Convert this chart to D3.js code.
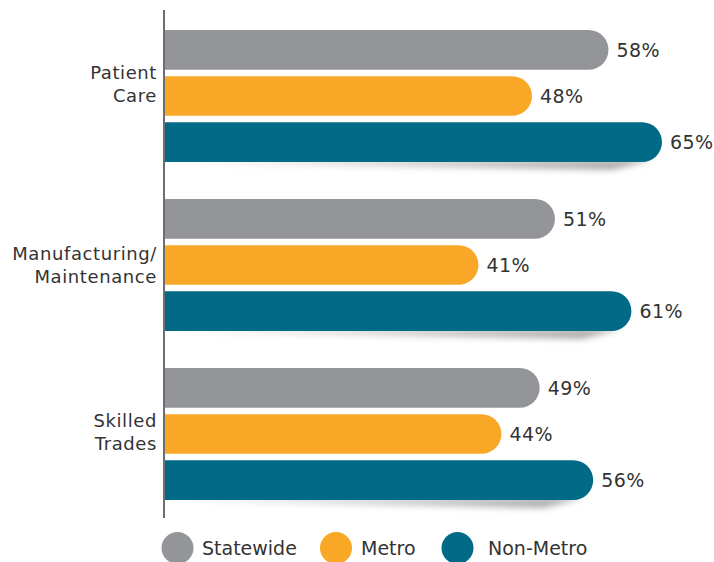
<!DOCTYPE html>
<html>
<head>
<meta charset="utf-8">
<script src="https://cdn.jsdelivr.net/npm/d3@7"></script>
<style>
  html, body { margin: 0; padding: 0; background: #fff; }
  svg { display: block; font-family: "DejaVu Sans", "Open Sans", sans-serif; }
</style>
</head>
<body>
<svg id="chart" width="714" height="562"></svg>
<script>
// Share of respondents by occupation group and region
const categories = [["Patient", "Care"], ["Manufacturing/", "Maintenance"], ["Skilled", "Trades"]];
const series = ["Statewide", "Metro", "Non-Metro"];
const statewide = [58, 51, 49];
const metro = [48, 41, 44];
const nonMetro = [65, 61, 56];
const colors = ["#939598", "#F9A727", "#016A87"];

// layout constants
const labelShift = [-12, 0, -1.5];      // vertical nudge of each category label block
const legendDot = [177.5, 336, 457.5];  // legend swatch centres
const legendText = [202, 361, 488];     // legend label starts

const values = [statewide, metro, nonMetro];
const svg = d3.select("#chart");

const x = d3.scaleLinear().domain([0, 65]).range([165, 662]);
const groupY = d3.scaleBand().domain(d3.range(categories.length)).range([30, 537]);
const barY = d3.scaleBand().domain(series).range([0, 132]).paddingInner(0.14);

const defs = svg.append("defs");
defs.append("filter").attr("id", "shadow").attr("x", "-10%").attr("y", "-100%").attr("width", "120%").attr("height", "300%")
  .append("feGaussianBlur").attr("stdDeviation", 3);
const grad = defs.append("linearGradient").attr("id", "shadeGrad");
grad.append("stop").attr("offset", "0%").attr("stop-color", "#000").attr("stop-opacity", 0.02);
grad.append("stop").attr("offset", "100%").attr("stop-color", "#000").attr("stop-opacity", 0.35);

function pill(x0, x1, y0, h) {
  const rr = Math.min(h / 2, x1 - x0);
  return `M${x0},${y0}H${x1 - rr}A${rr},${rr} 0 0 1 ${x1},${y0 + rr}` +
         `V${y0 + h - rr}A${rr},${rr} 0 0 1 ${x1 - rr},${y0 + h}H${x0}Z`;
}

const groups = svg.selectAll("g.group").data(categories).join("g")
  .attr("class", "group")
  .attr("transform", (d, i) => `translate(0,${groupY(i)})`);

// soft shadow beneath the last bar of each group
groups.append("path")
  .attr("d", (d, i) => {
    const y0 = barY("Non-Metro") + barY.bandwidth();
    const x1 = x(nonMetro[i]) - 10;
    return `M${x(0)},${y0 - 2}L${x1},${y0 - 2}L${x1 - 40},${y0 + 8}L${x(0) + 60},${y0 + 2}Z`;
  })
  .attr("fill", "url(#shadeGrad)")
  .attr("filter", "url(#shadow)");

series.forEach((s, si) => {
  groups.append("path")
    .attr("d", (d, i) => pill(x(0), x(values[si][i]), barY(s), barY.bandwidth()))
    .attr("fill", colors[si]);
  groups.append("text")
    .attr("x", (d, i) => x(values[si][i]) + 8)
    .attr("y", barY(s) + barY.bandwidth() / 2)
    .attr("dy", "0.36em")
    .attr("font-size", 19)
    .attr("letter-spacing", 0.4)
    .attr("fill", "#333")
    .text((d, i) => values[si][i] + "%");
});

// category labels
groups.append("text")
  .attr("text-anchor", "end")
  .attr("font-size", 18)
  .attr("letter-spacing", 0.6)
  .attr("fill", "#333")
  .selectAll("tspan").data((d, i) => d.map(t => ({ t, i }))).join("tspan")
  .attr("x", 157)
  .attr("y", (d, j) => barY("Metro") + barY.bandwidth() / 2 - 11.5 + j * 23 + labelShift[d.i])
  .attr("dy", "0.36em")
  .text(d => d.t);

// vertical axis line
svg.append("line")
  .attr("x1", 164).attr("x2", 164).attr("y1", 10).attr("y2", 518)
  .attr("stroke", "#6d6e71").attr("stroke-width", 2);

// legend
const legend = svg.selectAll("g.legend").data(series).join("g")
  .attr("class", "legend");
legend.append("circle")
  .attr("cx", (d, i) => legendDot[i]).attr("cy", 548)
  .attr("r", 16).attr("fill", (d, i) => colors[i]);
legend.append("text")
  .attr("x", (d, i) => legendText[i]).attr("y", 548).attr("dy", "0.36em")
  .attr("font-size", 19).attr("fill", "#333")
  .text(d => d);
</script>
</body>
</html>
